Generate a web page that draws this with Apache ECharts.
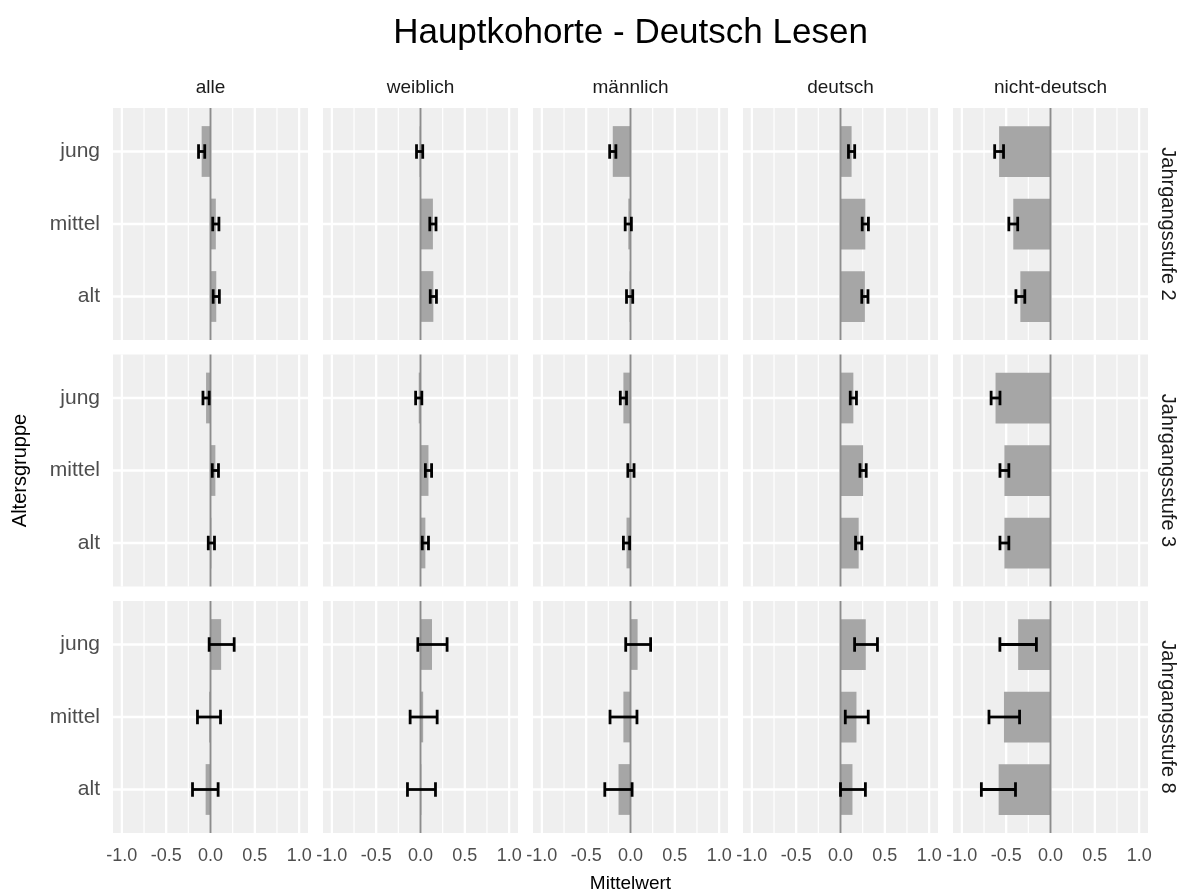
<!DOCTYPE html>
<html><head><meta charset="utf-8">
<script src="https://cdn.jsdelivr.net/npm/echarts@6/dist/echarts.min.js"></script>
<style>html,body{margin:0;padding:0;background:#fff}#c{width:1182px;height:894px}</style>
</head><body><div id="c"></div>
<script>
// ---------- data ----------
const chartTitle = 'Hauptkohorte - Deutsch Lesen';
const columns = ['alle', 'weiblich', 'männlich', 'deutsch', 'nicht-deutsch'];
const rows = ['Jahrgangsstufe 2', 'Jahrgangsstufe 3', 'Jahrgangsstufe 8'];
const groups = ['jung', 'mittel', 'alt'];
const xTicks = [-1.0, -0.5, 0.0, 0.5, 1.0];
const xMinorTicks = [-0.75, -0.25, 0.25, 0.75];
const xLabel = 'Mittelwert';
const yLabel = 'Altersgruppe';

// per row: one array per column (alle, weiblich, männlich, deutsch, nicht-deutsch), values for [jung, mittel, alt]
const meanJ2 = [[-0.10, 0.06, 0.065], [-0.01, 0.14, 0.145], [-0.20, -0.025, -0.01], [0.125, 0.28, 0.275], [-0.58, -0.42, -0.34]];
const lowJ2  = [[-0.135, 0.025, 0.03], [-0.045, 0.105, 0.11], [-0.235, -0.06, -0.045], [0.09, 0.245, 0.24], [-0.63, -0.47, -0.39]];
const highJ2 = [[-0.065, 0.095, 0.10], [0.025, 0.175, 0.18], [-0.165, 0.01, 0.025], [0.16, 0.315, 0.31], [-0.53, -0.37, -0.29]];

const meanJ3 = [[-0.05, 0.055, 0.01], [-0.02, 0.09, 0.055], [-0.08, 0.005, -0.045], [0.145, 0.255, 0.205], [-0.62, -0.52, -0.52]];
const lowJ3  = [[-0.085, 0.02, -0.025], [-0.055, 0.055, 0.02], [-0.115, -0.03, -0.08], [0.11, 0.22, 0.17], [-0.67, -0.57, -0.57]];
const highJ3 = [[-0.015, 0.09, 0.045], [0.015, 0.125, 0.09], [-0.045, 0.04, -0.01], [0.18, 0.29, 0.24], [-0.57, -0.47, -0.47]];

const meanJ8 = [[0.12, -0.015, -0.055], [0.13, 0.03, 0.01], [0.08, -0.08, -0.135], [0.285, 0.18, 0.135], [-0.365, -0.525, -0.585]];
const lowJ8  = [[-0.015, -0.147, -0.203], [-0.03, -0.117, -0.147], [-0.054, -0.231, -0.29], [0.159, 0.054, 0.0], [-0.571, -0.694, -0.78]];
const highJ8 = [[0.267, 0.113, 0.086], [0.30, 0.188, 0.169], [0.227, 0.073, 0.018], [0.417, 0.313, 0.281], [-0.159, -0.349, -0.395]];

const means = [meanJ2, meanJ3, meanJ8];
const lows = [lowJ2, lowJ3, lowJ8];
const highs = [highJ2, highJ3, highJ8];

// ---------- layout / style ----------
const FONT = 'Liberation Sans, Arial, Helvetica, sans-serif';
const PL = 113, PW = 195, CSTEP = 210;
const PT = 108, PH = 232, RSTEP = 246.5;
const XMIN = -1.1, XMAX = 1.1, YMIN = 0.4, YMAX = 3.6;
const PANEL_BG = '#EFEFEF', BAR = '#A6A6A6', ZERO = '#8C8C8C';

const grids = [], xAxes = [], yAxes = [], series = [];

for (let r = 0; r < rows.length; r++) {
  for (let c = 0; c < columns.length; c++) {
    const idx = r * columns.length + c;
    grids.push({ left: PL + c * CSTEP, top: PT + r * RSTEP, width: PW, height: PH, containLabel: false });
    xAxes.push({
      gridIndex: idx, type: 'value', min: XMIN, max: XMAX,
      axisLine: { show: false }, axisTick: { show: false }, splitLine: { show: false },
      axisLabel: {
        show: r === rows.length - 1, customValues: xTicks,
        formatter: v => Number(v).toFixed(1),
        color: '#4D4D4D', fontSize: 18, fontFamily: FONT, margin: 14
      }
    });
    yAxes.push({
      gridIndex: idx, type: 'value', min: YMIN, max: YMAX, inverse: true,
      axisLine: { show: false }, axisTick: { show: false }, splitLine: { show: false },
      axisLabel: {
        show: c === 0, customValues: [1, 2, 3],
        formatter: v => groups[Math.round(v) - 1] || '',
        color: '#4D4D4D', fontSize: 21, fontFamily: FONT, margin: 13
      }
    });

    // panel background + grid lines
    series.push({
      type: 'custom', xAxisIndex: idx, yAxisIndex: idx, silent: true, z: 1,
      data: [[0, 2]],
      renderItem: function (params, api) {
        const tl = api.coord([XMIN, YMIN]);
        const br = api.coord([XMAX, YMAX]);
        const children = [{
          type: 'rect', shape: { x: tl[0], y: tl[1], width: br[0] - tl[0], height: br[1] - tl[1] },
          style: { fill: PANEL_BG }
        }];
        xMinorTicks.forEach(v => {
          const px = api.coord([v, YMIN])[0];
          children.push({ type: 'line', shape: { x1: px, y1: tl[1], x2: px, y2: br[1] }, style: { stroke: '#FFFFFF', lineWidth: 1.2 } });
        });
        xTicks.forEach(v => {
          const px = api.coord([v, YMIN])[0];
          children.push({ type: 'line', shape: { x1: px, y1: tl[1], x2: px, y2: br[1] }, style: { stroke: '#FFFFFF', lineWidth: 2.3 } });
        });
        [1, 2, 3].forEach(v => {
          const py = api.coord([XMIN, v])[1];
          children.push({ type: 'line', shape: { x1: tl[0], y1: py, x2: br[0], y2: py }, style: { stroke: '#FFFFFF', lineWidth: 2.3 } });
        });
        return { type: 'group', children };
      }
    });

    // bars
    series.push({
      type: 'custom', name: columns[c] + ' ' + rows[r], xAxisIndex: idx, yAxisIndex: idx, z: 2,
      encode: { x: 0, y: 1 },
      data: groups.map((g, i) => [means[r][c][i], i + 1]),
      renderItem: function (params, api) {
        const v = api.value(0), y = api.value(1);
        const p0 = api.coord([0, y - 0.35]);
        const p1 = api.coord([v, y + 0.35]);
        return {
          type: 'rect',
          shape: { x: Math.min(p0[0], p1[0]), y: Math.min(p0[1], p1[1]), width: Math.abs(p1[0] - p0[0]), height: Math.abs(p1[1] - p0[1]) },
          style: { fill: BAR }
        };
      }
    });

    // zero reference line
    series.push({
      type: 'custom', xAxisIndex: idx, yAxisIndex: idx, silent: true, z: 3,
      data: [[0, 2]],
      renderItem: function (params, api) {
        const a = api.coord([0, YMIN]), b = api.coord([0, YMAX]);
        return { type: 'line', shape: { x1: a[0], y1: a[1], x2: b[0], y2: b[1] }, style: { stroke: ZERO, lineWidth: 2 } };
      }
    });

    // error bars
    series.push({
      type: 'custom', xAxisIndex: idx, yAxisIndex: idx, z: 4,
      encode: { x: [0, 1], y: 2 },
      data: groups.map((g, i) => [lows[r][c][i], highs[r][c][i], i + 1]),
      renderItem: function (params, api) {
        const lo = api.value(0), hi = api.value(1), y = api.value(2);
        const a = api.coord([lo, y]), b = api.coord([hi, y]);
        const t = api.coord([lo, y - 0.1])[1], bt = api.coord([lo, y + 0.1])[1];
        const st = { stroke: '#000000', lineWidth: 2.8 };
        return {
          type: 'group', children: [
            { type: 'line', shape: { x1: a[0], y1: a[1], x2: b[0], y2: b[1] }, style: st },
            { type: 'line', shape: { x1: a[0], y1: t, x2: a[0], y2: bt }, style: st },
            { type: 'line', shape: { x1: b[0], y1: t, x2: b[0], y2: bt }, style: st }
          ]
        };
      }
    });
  }
}

// text elements (strips and axis titles)
const graphics = [];
columns.forEach((name, c) => {
  graphics.push({ type: 'text', x: PL + c * CSTEP + PW / 2, y: 88, silent: true,
    style: { text: name, fill: '#1A1A1A', fontSize: 19, fontFamily: FONT, align: 'center', verticalAlign: 'middle' } });
});
rows.forEach((name, r) => {
  graphics.push({ type: 'text', x: 1168, y: PT + r * RSTEP + PH / 2, rotation: -Math.PI / 2, silent: true,
    style: { text: name, fill: '#1A1A1A', fontSize: 20, fontFamily: FONT, align: 'center', verticalAlign: 'middle' } });
});
graphics.push({ type: 'text', x: PL + 2 * CSTEP + PW / 2, y: 884, silent: true,
  style: { text: xLabel, fill: '#000000', fontSize: 19, fontFamily: FONT, align: 'center', verticalAlign: 'middle' } });
graphics.push({ type: 'text', x: 20, y: PT + (2 * RSTEP + PH) / 2, rotation: Math.PI / 2, silent: true,
  style: { text: yLabel, fill: '#000000', fontSize: 20, fontFamily: FONT, align: 'center', verticalAlign: 'middle' } });

const chart = echarts.init(document.getElementById('c'), null, { renderer: 'canvas' });
chart.setOption({
  animation: false,
  backgroundColor: '#FFFFFF',
  title: {
    text: chartTitle, left: PL + 2 * CSTEP + PW / 2, top: 16, textAlign: 'center', padding: 0,
    textStyle: { fontSize: 35, fontWeight: 'normal', color: '#000000', fontFamily: FONT }
  },
  grid: grids, xAxis: xAxes, yAxis: yAxes, series: series, graphic: graphics
});
</script></body></html>
